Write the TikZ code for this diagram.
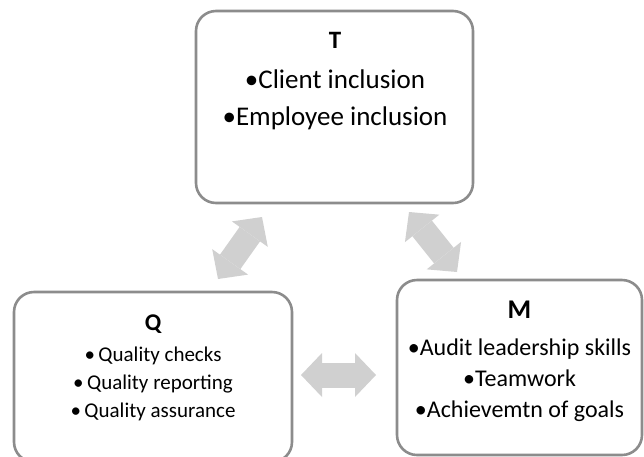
\documentclass[tikz,border=0pt]{standalone}
\usepackage{fontspec}
\setmainfont{Carlito}
\usepackage{xcolor}
\usetikzlibrary{arrows.meta,positioning}
\definecolor{boxgray}{HTML}{8C8C8C}
\definecolor{flowgray}{HTML}{D0D0D0}
\tikzset{
  every picture/.append style={line join=round},
  area box/.style={draw=boxgray,line width=2.6pt,rounded corners=20pt,fill=white},
  area title/.style={font=\bfseries,anchor=base,inner sep=0pt},
  area items/.style={align=center,anchor=base,inner sep=0pt},
  area flow/.style={flowgray,line width=25pt,{Triangle[width=44pt,length=21pt,line width=0pt]}-{Triangle[width=44pt,length=21pt,line width=0pt]}}
}

\begin{document}
\begin{tikzpicture}[x=1pt,y=-1pt]
\useasboundingbox (0,0) rectangle (644,456);
% the three areas
\node[area box,minimum width=277pt,minimum height=192pt] (T) at (334.5,107) {};
\node[area box,minimum width=278pt,minimum height=170pt] (Q) at (153,377) {};
\node[area box,minimum width=245pt,minimum height=175pt] (M) at (519.5,367.5) {};
% titles and points (items sit on the base of their last line)
\node[area title,font=\bfseries\fontsize{25}{30}\selectfont] (Ttitle) at (335,48) {T};
\node[area items,font=\fontsize{27}{37}\selectfont] (Titems) at (335,125)
  {•Client inclusion\\•Employee inclusion};
\node[area title,font=\bfseries\fontsize{24}{29}\selectfont] (Qtitle) at (153,330) {Q};
\node[area items,font=\fontsize{21}{28}\selectfont] (Qitems) at (153,417)
  {•\,Quality checks\\•\,Quality reporting\\•\,Quality assurance};
\node[area title,font=\bfseries\fontsize{27}{32}\selectfont] (Mtitle) at (519.5,318) {M};
\node[area items,font=\fontsize{24}{31}\selectfont] (Mitems) at (519.5,417)
  {•Audit leadership skills\\•Teamwork\\•Achievemtn of goals};
% ends of the block arrows
\coordinate (qt1) at (218,279);
\coordinate (qt2) at (262,217);
\coordinate (tm1) at (409,212);
\coordinate (tm2) at (457,272);
\coordinate (qm1) at (301,375);
\coordinate (qm2) at (376,375);
\draw[area flow] (qt1) -- (qt2);
\draw[area flow] (tm1) -- (tm2);
\draw[area flow] (qm1) -- (qm2);
\end{tikzpicture}
\end{document}
